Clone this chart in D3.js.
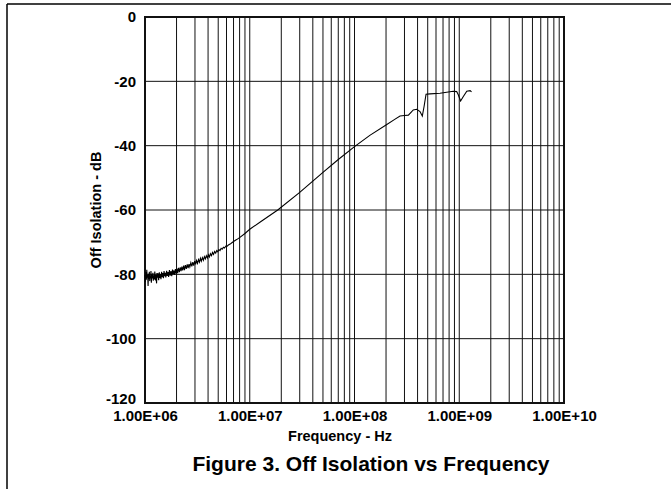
<!DOCTYPE html>
<html>
<head>
<meta charset="utf-8">
<script src="https://cdn.jsdelivr.net/npm/d3@7"></script>
<style>
    body { margin: 0; background: #fff; }
    text { font-family: "Liberation Sans", Arial, sans-serif; font-weight: bold; fill: #000; }
</style>
</head>
<body>
<div id="chart"></div>
<script>
// measured trace: frequency (MHz) and off isolation (dB)
const freqMHz = [
    1.00, 1.01, 1.02, 1.03, 1.04, 1.05, 1.06, 1.07, 1.08, 1.09,
    1.10, 1.11, 1.12, 1.13, 1.14, 1.15, 1.16, 1.17, 1.19, 1.20,
    1.21, 1.23, 1.24, 1.26, 1.27, 1.29, 1.30, 1.32, 1.33, 1.35,
    1.37, 1.38, 1.40, 1.42, 1.44, 1.46, 1.48, 1.50, 1.52, 1.54,
    1.56, 1.58, 1.61, 1.63, 1.66, 1.68, 1.71, 1.74, 1.77, 1.80,
    1.83, 1.86, 1.89, 1.92, 1.95, 1.98, 2.02, 2.05, 2.09, 2.13,
    2.17, 2.21, 2.25, 2.29, 2.34, 2.38, 2.43, 2.48, 2.53, 2.58,
    2.63, 2.68, 2.74, 2.80, 2.86, 2.92, 2.98, 3.04, 3.10, 3.17,
    3.24, 3.31, 3.38, 3.45, 3.53, 3.61, 3.69, 3.77, 3.85, 3.94,
    4.03, 4.12, 4.21, 4.31, 4.41, 4.51, 4.62, 4.73, 4.84, 4.95,
    5.07, 5.20, 5.33, 5.46, 5.60, 5.75, 5.90, 6.05, 6.25, 6.50,
    6.75, 7.00, 7.50, 8.00, 9.00, 10.0, 13.0, 18.5, 30.0, 50.0,
    70.0, 100, 140, 200, 240, 272, 300, 327, 364, 392,
    422, 444, 461, 482, 526, 655, 877, 945, 979, 1030,
    1090, 1180, 1270, 1310
];
const isolationDb = [
    -80.2, -82.4, -79.3, -81.7, -78.6, -81.0, -80.1, -83.6, -79.8, -81.5,
    -79.2, -82.1, -80.4, -81.2, -79.0, -82.6, -80.0, -81.3, -79.5, -82.0,
    -80.3, -81.6, -79.1, -81.9, -80.2, -82.8, -79.6, -81.0, -79.7, -81.8,
    -79.4, -81.1, -79.9, -81.5, -79.2, -80.9, -79.6, -81.2, -79.0, -80.6,
    -79.5, -81.0, -78.9, -80.5, -79.3, -80.8, -78.7, -80.4, -79.0, -80.6,
    -78.5, -80.0, -78.8, -80.2, -78.4, -79.7, -78.2, -79.6, -78.0, -79.3,
    -77.8, -79.0, -77.6, -78.8, -77.3, -78.7, -77.1, -78.3, -76.9, -78.1,
    -76.8, -77.7, -76.4, -77.5, -76.2, -77.3, -75.9, -76.9, -75.7, -76.6,
    -75.4, -76.2, -75.0, -75.9, -74.8, -75.6, -74.5, -75.2, -74.2, -74.9,
    -73.9, -74.6, -73.6, -74.2, -73.2, -73.8, -72.9, -73.4, -72.6, -73.0,
    -72.3, -72.6, -71.9, -72.2, -71.6, -71.8, -71.2, -71.3, -70.9, -70.6,
    -70.2, -69.8, -69.2, -68.6, -67.3, -66.0, -63.4, -60.0, -54.5, -48.3,
    -44.3, -40.3, -36.8, -33.6, -31.9, -30.8, -30.6, -30.5, -28.9, -28.7,
    -29.4, -30.8, -27.9, -24.0, -23.9, -23.7, -23.1, -23.2, -24.2, -26.1,
    -24.8, -23.1, -22.9, -23.3
];

const xTickValues = [1e6, 1e7, 1e8, 1e9, 1e10];
const xTickLabels = ['1.00E+06', '1.00E+07', '1.00E+08', '1.00E+09', '1.00E+10'];
const yTickValues = [0, -20, -40, -60, -80, -100, -120];

const width = 671, height = 489;
const margin = {top: 17, right: 107, bottom: 86, left: 145};
const w = width - margin.left - margin.right;
const h = height - margin.top - margin.bottom;

const data = freqMHz.map((f, i) => ({f: f * 1e6, db: isolationDb[i]}));

const svg = d3.select('#chart').append('svg')
    .attr('width', width)
    .attr('height', height);

// page frame lines
svg.append('line')
    .attr('x1', 7).attr('x2', width).attr('y1', 4).attr('y2', 4)
    .attr('stroke', '#000').attr('stroke-width', 1.5);
svg.append('line')
    .attr('x1', 7).attr('x2', 7).attr('y1', 4).attr('y2', height)
    .attr('stroke', '#000').attr('stroke-width', 1.5);

const chart = svg.append('g')
    .attr('transform', `translate(${margin.left},${margin.top})`);

const xScale = d3.scaleLog().domain([1e6, 1e10]).range([0, w]);
const yScale = d3.scaleLinear().domain([-120, 0]).range([h, 0]);

// log grid: 2..9 and decades
const gridTicks = xScale.ticks().filter(d => d > 1e6 && d < 1e10);

chart.append('g').selectAll('line')
    .data(gridTicks)
    .join('line')
    .attr('x1', d => xScale(d)).attr('x2', d => xScale(d))
    .attr('y1', 0).attr('y2', h)
    .attr('stroke', '#111').attr('stroke-width', 1);

chart.append('g').selectAll('line')
    .data(yTickValues.filter(d => d > -120 && d < 0))
    .join('line')
    .attr('x1', 0).attr('x2', w)
    .attr('y1', d => yScale(d)).attr('y2', d => yScale(d))
    .attr('stroke', '#111').attr('stroke-width', 1);

chart.append('rect')
    .attr('width', w).attr('height', h)
    .attr('fill', 'none')
    .attr('stroke', '#111').attr('stroke-width', 2);

const line = d3.line()
    .x(d => xScale(d.f))
    .y(d => yScale(d.db));

chart.append('path')
    .datum(data)
    .attr('d', line)
    .attr('fill', 'none')
    .attr('stroke', '#000')
    .attr('stroke-width', 1.1);

// axes (labels only, the frame is drawn above)
const xAxis = d3.axisBottom(xScale)
    .tickValues(xTickValues)
    .tickSize(0)
    .tickPadding(7)
    .tickFormat((d, i) => xTickLabels[i]);

const yAxis = d3.axisLeft(yScale)
    .tickValues(yTickValues)
    .tickSize(0)
    .tickPadding(9)
    .tickFormat(d => d);

const xAxisG = chart.append('g')
    .attr('transform', `translate(0,${h})`)
    .call(xAxis);
const yAxisG = chart.append('g').call(yAxis);

[xAxisG, yAxisG].forEach(g => {
    g.select('.domain').remove();
    g.selectAll('text')
        .style('font-family', '"Liberation Sans", Arial, sans-serif')
        .style('font-weight', 'bold')
        .style('font-size', '15px')
        .attr('fill', '#000');
});

// bottom y label sits a little above its line, clear of the x labels
yAxisG.selectAll('.tick')
    .filter(d => d === -120)
    .select('text')
    .attr('y', -4);

svg.append('text')
    .attr('x', 340)
    .attr('y', 441)
    .attr('text-anchor', 'middle')
    .style('font-size', '14.5px')
    .text('Frequency - Hz');

svg.append('text')
    .attr('transform', 'translate(101,210) rotate(-90)')
    .attr('text-anchor', 'middle')
    .style('font-size', '14.5px')
    .text('Off Isolation - dB');

svg.append('text')
    .attr('x', 371)
    .attr('y', 471)
    .attr('text-anchor', 'middle')
    .style('font-size', '21px')
    .text('Figure 3. Off Isolation vs Frequency');
</script>
</body>
</html>
